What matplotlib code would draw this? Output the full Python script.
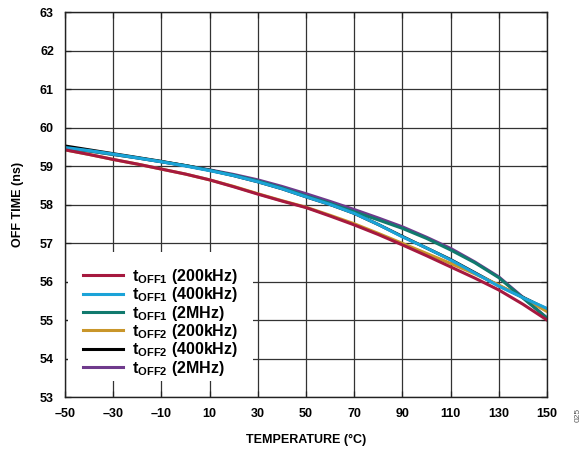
import matplotlib
matplotlib.use("Agg")
import matplotlib.pyplot as plt
from matplotlib.patches import Rectangle

plt.rcParams['font.family'] = ['Liberation Sans', 'DejaVu Sans']
plt.rcParams['mathtext.fontset'] = 'custom'
plt.rcParams['mathtext.rm'] = 'Liberation Sans:bold'
plt.rcParams['mathtext.bf'] = 'Liberation Sans:bold'
plt.rcParams['mathtext.it'] = 'Liberation Sans:bold'

temps = [-50, -40, -30, -20, -10, 0, 10, 20, 30, 40, 50,
         60, 70, 80, 90, 100, 110, 120, 130, 140, 150]

toff1_200k = [59.42, 59.30, 59.17, 59.05, 58.92, 58.79, 58.64, 58.46, 58.27, 58.09, 57.92,
              57.70, 57.47, 57.22, 56.95, 56.67, 56.38, 56.09, 55.78, 55.41, 55.00]
toff1_400k = [59.48, 59.40, 59.31, 59.21, 59.11, 59.00, 58.88, 58.75, 58.59, 58.41, 58.20,
              58.00, 57.77, 57.48, 57.16, 56.87, 56.56, 56.22, 55.88, 55.58, 55.30]
toff1_2m   = [59.46, 59.39, 59.30, 59.21, 59.11, 59.01, 58.89, 58.76, 58.61, 58.43, 58.22,
              58.03, 57.81, 57.60, 57.38, 57.12, 56.82, 56.49, 56.10, 55.57, 55.05]
toff2_200k = [59.42, 59.30, 59.17, 59.05, 58.92, 58.79, 58.64, 58.47, 58.28, 58.10, 57.93,
              57.72, 57.50, 57.25, 56.99, 56.73, 56.47, 56.20, 55.91, 55.58, 55.22]
toff2_400k = [59.52, 59.42, 59.32, 59.22, 59.12, 59.01, 58.89, 58.75, 58.59, 58.41, 58.20,
              58.00, 57.77, 57.48, 57.17, 56.87, 56.57, 56.23, 55.89, 55.59, 55.28]
toff2_2m   = [59.46, 59.39, 59.30, 59.21, 59.11, 59.01, 58.90, 58.78, 58.64, 58.47, 58.28,
              58.08, 57.87, 57.65, 57.42, 57.15, 56.86, 56.51, 56.12, 55.59, 55.05]

labels = [r'$\mathbf{t_{OFF1}}$ (200kHz)', r'$\mathbf{t_{OFF1}}$ (400kHz)',
          r'$\mathbf{t_{OFF1}}$ (2MHz)', r'$\mathbf{t_{OFF2}}$ (200kHz)',
          r'$\mathbf{t_{OFF2}}$ (400kHz)', r'$\mathbf{t_{OFF2}}$ (2MHz)']
colors = ['#a6193f', '#1ba3d8', '#117a6e', '#c9962a', '#000000', '#6f3a8c']
series = [toff1_200k, toff1_400k, toff1_2m, toff2_200k, toff2_400k, toff2_2m]
zorders = [8, 7, 6, 5, 4, 3]

fig = plt.figure(figsize=(5.87, 4.55), dpi=100)
ax = fig.add_axes([65/587, 1-397/455, (547-65)/587, (397-12)/455])

handles = []
for y, c, lab, z in zip(series, colors, labels, zorders):
    h, = ax.plot(temps, y, color=c, lw=2.2, label=lab, zorder=z,
                 solid_joinstyle='round')
    handles.append(h)

ax.set_xlim(-50, 150)
ax.set_ylim(53, 63)
xt = list(range(-50, 151, 20))
ax.set_xticks(xt)
ax.set_xticklabels([('\u2013' + str(-t)) if t < 0 else str(t) for t in xt])
ax.set_yticks(list(range(53, 64)))
ax.grid(True, color='#333333', lw=0.9)
ax.set_axisbelow(True)
ax.tick_params(direction='in', length=4, width=0.9, color='#222222',
               labelsize=9, pad=8, top=True, right=True)
for lbl in ax.get_xticklabels() + ax.get_yticklabels():
    lbl.set_fontweight('bold')
for s in ax.spines.values():
    s.set_color('#222222')
    s.set_linewidth(1.0)
    s.set_zorder(25)

ax.set_xlabel('TEMPERATURE (°C)', fontsize=9, fontweight='bold', labelpad=10)
ax.set_ylabel('OFF TIME (ns)', fontsize=9, fontweight='bold', labelpad=11)

# white background behind the legend (covers grid lines, leaves inward ticks)
ax.add_patch(Rectangle((0.006, 0.042), 0.384, 0.335, transform=ax.transAxes,
                       facecolor='white', edgecolor='none', zorder=19))

leg = ax.legend(handles=handles, loc='lower left', bbox_to_anchor=(0.037, 0.05),
                frameon=False, fontsize=11.5, handlelength=2.5, labelspacing=-0.04,
                borderpad=0.0, handletextpad=0.6, borderaxespad=0.0)
for t in leg.get_texts():
    t.set_fontweight('bold')
leg.set_zorder(20)

fig.text(578/587, 1-415/455, '025', rotation=90, fontsize=6, color='#555555',
         ha='center', va='center')

fig.savefig('out.png', dpi=100)
